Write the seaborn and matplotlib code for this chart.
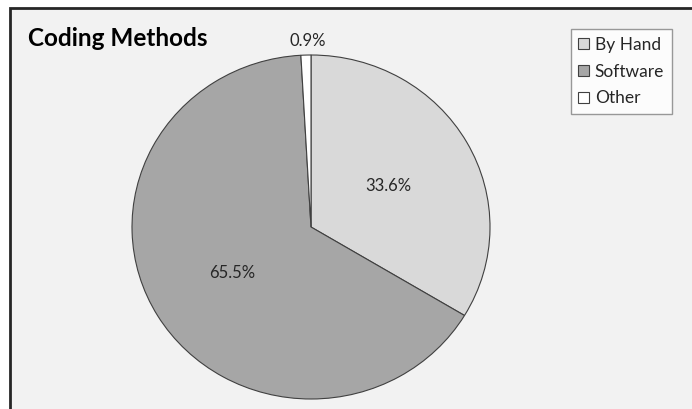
import matplotlib
matplotlib.use("Agg")
import matplotlib.pyplot as plt
from matplotlib.patches import Rectangle
import seaborn as sns

# Share of coding approaches
methods = ["By Hand", "Software", "Other"]
shares = [33.6, 65.5, 0.9]
slice_colors = ["#d9d9d9", "#a6a6a6", "#ffffff"]
title_text = "Coding Methods"

sns.set_style("white")
plt.rcParams["font.family"] = ["Lato", "DejaVu Sans"]

W, H = 692, 409
fig = plt.figure(figsize=(W / 100, H / 100), dpi=100)
fig.patch.set_facecolor("white")

# chart panel with dark frame on the left and top edges
panel = Rectangle((10 / W, -0.05), 1.1, (H - 8) / H + 0.05, transform=fig.transFigure,
                  facecolor="#f2f2f2", edgecolor="#262626", linewidth=2, zorder=-10)
fig.patches.append(panel)

ax = fig.add_axes([0, 0, 1, 1])
ax.set_facecolor("none")
ax.set_zorder(1)

wedges, _ = ax.pie(shares, colors=slice_colors, startangle=90, counterclock=False,
                   radius=1.0, wedgeprops=dict(edgecolor="#404040", linewidth=0.8))

# pixel-based mapping: centre at (311, 227) from top-left, radii 179 x 172 px
cx, cy, rx, ry = 311, 227, 179, 172
ax.set_aspect("auto")
ax.set_xlim(-cx / rx, (W - cx) / rx)
ax.set_ylim(-(H - cy) / ry, cy / ry)
ax.axis("off")

label_pos = [(0.43, 0.238), (-0.441, -0.267), (-0.017, 1.08)]
for val, (x, y) in zip(shares, label_pos):
    ax.text(x, y, f"{val:.1f}%", ha="center", va="center", fontsize=12, color="#262626")

fig.text(28 / W, 1 - 38 / H, title_text, ha="left", va="center",
         fontsize=17.5, fontweight="bold", color="black", zorder=2)

handles = [Rectangle((0, 0), 1, 1, facecolor=c, edgecolor="#404040", linewidth=0.8)
           for c in slice_colors]
leg = fig.legend(handles, methods, loc="upper right",
                 bbox_to_anchor=(672 / W, 1 - 29 / H), bbox_transform=fig.transFigure,
                 frameon=True, fancybox=False, fontsize=12.5, handlelength=0.6,
                 handleheight=0.6, handletextpad=0.35, labelspacing=0.62,
                 borderpad=0.45, borderaxespad=0)
leg.get_frame().set_edgecolor("#808080")
leg.get_frame().set_facecolor("white")
leg.get_frame().set_linewidth(1.0)
leg.set_zorder(3)
for t in leg.get_texts():
    t.set_color("#262626")

fig.savefig("out.png", dpi=100)
